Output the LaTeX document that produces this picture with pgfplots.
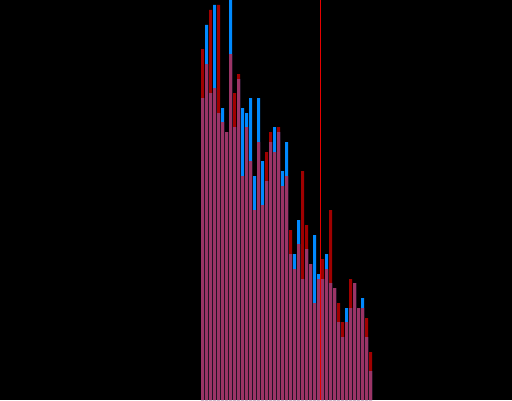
\documentclass[border=0pt]{standalone}
\usepackage{pgfplots}
\usepackage{pgfplotstable}
\pgfplotsset{compat=1.18}
\definecolor{cblue}{RGB}{0,138,255}
\definecolor{cred}{RGB}{160,0,0}
\definecolor{cboth}{RGB}{155,52,102}
\definecolor{cline}{RGB}{230,0,0}
\pgfplotstableread{
k blue red both
0 302 351 302
1 375 336 336
2 307 390 307
3 395 312 312
4 287 395 287
5 292 278 278
6 268 268 268
7 410 346 346
8 273 307 273
9 321 326 321
10 292 224 224
11 287 273 273
12 302 239 239
13 224 190 190
14 302 258 258
15 239 195 195
16 219 248 219
17 258 268 258
18 273 248 248
19 268 273 268
20 229 214 214
21 258 224 224
22 146 170 146
23 146 131 131
24 180 156 156
25 121 229 121
26 151 175 151
27 136 136 136
28 165 97 97
29 126 121 121
30 121 141 121
31 146 131 131
32 117 190 117
33 112 112 112
34 78 97 78
35 63 78 63
36 92 78 78
37 92 121 92
38 117 117 117
39 92 92 92
40 102 92 92
41 63 82 63
42 29 48 29
}\hist
\begin{document}
\begin{tikzpicture}
\begin{axis}[
  scale only axis, width=512pt, height=400pt,
  xmin=-50.625, xmax=77.375, ymin=0, ymax=400,
  axis lines=none, ticks=none,
  axis background/.style={fill=black},
  clip=true,
]
\addplot[ybar, bar width=0.75, bar shift=0pt, fill=cblue, draw=none] table[x=k, y=blue] {\hist};
\addplot[ybar, bar width=0.75, bar shift=0pt, fill=cred, draw=none] table[x=k, y=red] {\hist};
\addplot[ybar, bar width=0.75, bar shift=0pt, fill=cboth, draw=none] table[x=k, y=both] {\hist};
\addplot[cline, line width=1.3pt] coordinates {(29.5,0) (29.5,400)};
\end{axis}
\end{tikzpicture}
\end{document}
